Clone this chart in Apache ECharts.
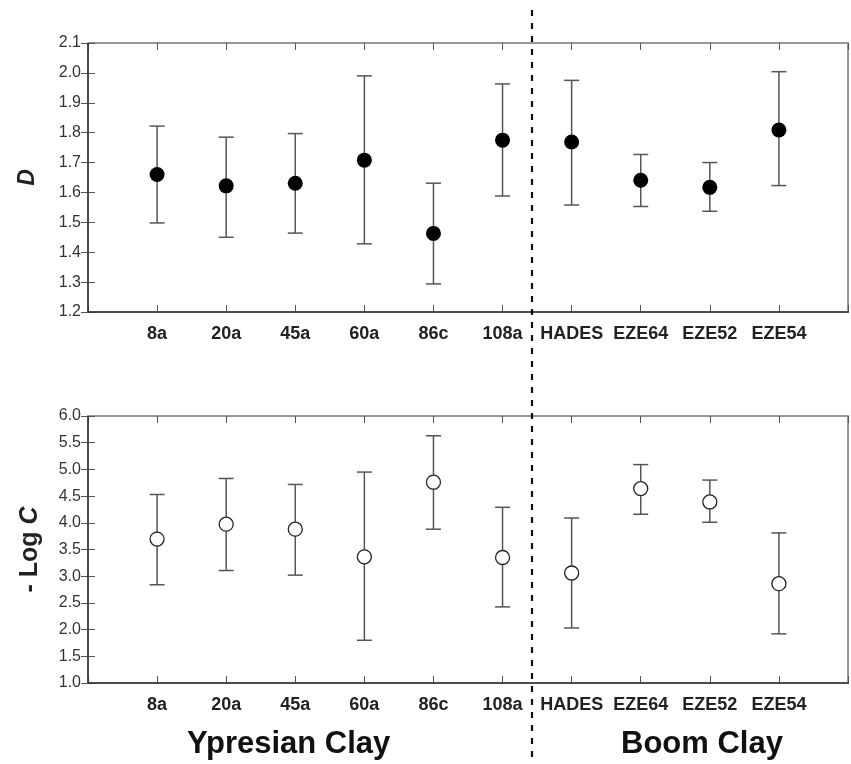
<!DOCTYPE html>
<html>
<head>
<meta charset="utf-8">
<script src="https://cdn.jsdelivr.net/npm/echarts@6/dist/echarts.min.js"></script>
<style>
  html, body { margin: 0; padding: 0; background: #fff; }
  #chart { width: 851px; height: 764px; }
</style>
</head>
<body>
<div id="chart"></div>
<script>
  // 样品名称
  var categories = ['8a', '20a', '45a', '60a', '86c', '108a', 'HADES', 'EZE64', 'EZE52', 'EZE54'];

  // D 值及误差范围
  var dValues = [1.66, 1.622, 1.631, 1.708, 1.463, 1.775, 1.769, 1.641, 1.617, 1.809];
  var dLow    = [1.498, 1.45, 1.464, 1.428, 1.294, 1.588, 1.558, 1.553, 1.537, 1.623];
  var dHigh   = [1.822, 1.785, 1.797, 1.99, 1.631, 1.963, 1.975, 1.727, 1.70, 2.004];

  // -Log C 值及误差范围
  var cValues = [3.695, 3.975, 3.88, 3.363, 4.76, 3.35, 3.06, 4.64, 4.39, 2.86];
  var cLow    = [2.84, 3.106, 3.02, 1.80, 3.88, 2.425, 2.03, 4.16, 4.01, 1.92];
  var cHigh   = [4.53, 4.83, 4.718, 4.95, 5.63, 4.29, 4.09, 5.09, 4.80, 3.81];

  // 纵轴刻度
  var dTicks = [1.2, 1.3, 1.4, 1.5, 1.6, 1.7, 1.8, 1.9, 2.0, 2.1];
  var cTicks = [1.0, 1.5, 2.0, 2.5, 3.0, 3.5, 4.0, 4.5, 5.0, 5.5, 6.0];

  var App = {};

  App.init = function(){
    var _this = this;
    var chart = echarts.init(document.getElementById('chart'));

    var font = '"Liberation Sans", Arial, sans-serif';

    // 误差线
    var errorItem = function(params, api){
      var x = api.value(0);
      var lo = api.coord([x, api.value(1)]);
      var hi = api.coord([x, api.value(2)]);
      var w = 7.5;
      var style = { stroke: '#555', lineWidth: 1.5 };
      return {
        type: 'group',
        children: [
          { type: 'line', shape: { x1: lo[0], y1: lo[1], x2: hi[0], y2: hi[1] }, style: style },
          { type: 'line', shape: { x1: lo[0] - w, y1: lo[1], x2: lo[0] + w, y2: lo[1] }, style: style },
          { type: 'line', shape: { x1: hi[0] - w, y1: hi[1], x2: hi[0] + w, y2: hi[1] }, style: style }
        ]
      };
    };

    var pts = function(vals){
      return vals.map(function(v, i){ return [i + 1, v]; });
    };
    var bars = function(lo, hi){
      return lo.map(function(v, i){ return [i + 1, v, hi[i]]; });
    };

    var xAxisBase = function(gi, pos, showLabel){
      return {
        type: 'value', gridIndex: gi, position: pos,
        min: 0, max: 11, interval: 1,
        splitLine: { show: false },
        axisLine: { show: false },
        axisTick: { show: true, inside: true, length: 7, lineStyle: { color: '#555' } },
        axisLabel: {
          show: showLabel, margin: 13,
          fontFamily: font, fontSize: 18, fontWeight: 'bold', color: '#222',
          formatter: function(v){ return categories[v - 1] || ''; }
        }
      };
    };

    var yAxisBase = function(gi, pos, min, max, step, name, showLabel){
      return {
        type: 'value', gridIndex: gi, position: pos,
        min: min, max: max, interval: step,
        splitLine: { show: false },
        axisLine: { show: false },
        axisTick: { show: true, inside: true, length: 7, lineStyle: { color: '#555' } },
        axisLabel: {
          show: showLabel, margin: 7,
          fontFamily: font, fontSize: 16, color: '#333',
          formatter: function(v){ return v.toFixed(1); }
        },
        name: name,
        nameLocation: 'middle',
        nameRotate: 90
      };
    };

    var yTop = yAxisBase(0, 'left', dTicks[0], dTicks[dTicks.length - 1], 0.1, 'D', true);
    yTop.nameGap = 49;
    yTop.nameTextStyle = { fontFamily: font, fontSize: 23, fontWeight: 'bold', fontStyle: 'italic', color: '#222' };

    var yBot = yAxisBase(1, 'left', cTicks[0], cTicks[cTicks.length - 1], 0.5, '{a|- Log }{b|C}', true);
    yBot.nameGap = 45;
    yBot.nameTextStyle = {
      fontFamily: font, fontSize: 25, fontWeight: 'bold', color: '#222',
      rich: {
        a: { fontFamily: font, fontSize: 25, fontWeight: 'bold', color: '#222' },
        b: { fontFamily: font, fontSize: 25, fontWeight: 'bold', fontStyle: 'italic', color: '#222' }
      }
    };

    var option = {
      animation: false,
      backgroundColor: '#fff',
      grid: [
        { left: 88, right: 2, top: 43, height: 269, show: true, borderColor: '#777', borderWidth: 1.5, backgroundColor: 'transparent' },
        { left: 88, right: 2, top: 416, height: 267, show: true, borderColor: '#777', borderWidth: 1.5, backgroundColor: 'transparent' }
      ],
      xAxis: [
        xAxisBase(0, 'bottom', true),
        xAxisBase(0, 'top', false),
        xAxisBase(1, 'bottom', true),
        xAxisBase(1, 'top', false)
      ],
      yAxis: [
        yTop,
        yAxisBase(0, 'right', dTicks[0], dTicks[dTicks.length - 1], 0.1, '', false),
        yBot,
        yAxisBase(1, 'right', cTicks[0], cTicks[cTicks.length - 1], 0.5, '', false)
      ],
      series: [
        {
          type: 'custom', xAxisIndex: 0, yAxisIndex: 0,
          renderItem: errorItem, data: bars(dLow, dHigh), z: 2
        },
        {
          type: 'scatter', xAxisIndex: 0, yAxisIndex: 0,
          symbolSize: 15, itemStyle: { color: '#000', opacity: 1 },
          data: pts(dValues), z: 3
        },
        {
          type: 'custom', xAxisIndex: 2, yAxisIndex: 2,
          renderItem: errorItem, data: bars(cLow, cHigh), z: 2
        },
        {
          type: 'scatter', xAxisIndex: 2, yAxisIndex: 2,
          symbolSize: 14, itemStyle: { color: '#fff', borderColor: '#222', borderWidth: 1.3, opacity: 1 },
          data: pts(cValues), z: 3
        }
      ],
      graphic: [
        // 分隔虚线
        {
          type: 'line', z: 10,
          shape: { x1: 532, y1: 10, x2: 532, y2: 762 },
          style: { stroke: '#111', lineWidth: 2.2, lineDash: [6, 7] }
        },
        {
          type: 'text', left: 187, top: 729,
          style: { text: 'Ypresian Clay', font: 'bold 31px ' + font, fill: '#111' }
        },
        {
          type: 'text', left: 621, top: 729,
          style: { text: 'Boom Clay', font: 'bold 31px ' + font, fill: '#111' }
        },
        // 左侧和底部轴线颜色较深
        { type: 'line', z: 9, shape: { x1: 88, y1: 43, x2: 88, y2: 312 }, style: { stroke: '#333', lineWidth: 1.5 } },
        { type: 'line', z: 9, shape: { x1: 88, y1: 312, x2: 849, y2: 312 }, style: { stroke: '#333', lineWidth: 1.5 } },
        { type: 'line', z: 9, shape: { x1: 88, y1: 416, x2: 88, y2: 683 }, style: { stroke: '#333', lineWidth: 1.5 } },
        { type: 'line', z: 9, shape: { x1: 88, y1: 683, x2: 849, y2: 683 }, style: { stroke: '#333', lineWidth: 1.5 } }
      ]
    };

    chart.setOption(option);
  };

  App.init();
</script>
</body>
</html>
